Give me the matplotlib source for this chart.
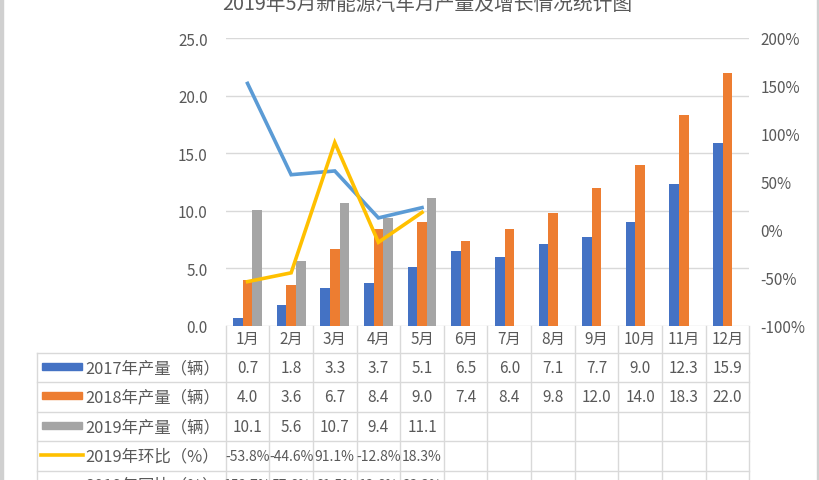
import numpy as np
import matplotlib
matplotlib.use("Agg")
import matplotlib.pyplot as plt
from matplotlib.patches import Rectangle
from matplotlib.lines import Line2D

plt.rcParams['font.family'] = ['Noto Sans CJK SC', 'DejaVu Sans']

months = ['1月', '2月', '3月', '4月', '5月', '6月', '7月', '8月', '9月', '10月', '11月', '12月']
p2017 = [0.7, 1.8, 3.3, 3.7, 5.1, 6.5, 6.0, 7.1, 7.7, 9.0, 12.3, 15.9]
p2018 = [4.0, 3.6, 6.7, 8.4, 9.0, 7.4, 8.4, 9.8, 12.0, 14.0, 18.3, 22.0]
p2019 = [10.1, 5.6, 10.7, 9.4, 11.1]
mom2019 = [-53.8, -44.6, 91.1, -12.8, 18.3]
yoy2019 = [152.7, 57.6, 61.5, 12.6, 23.3]

names = ['2017年产量（辆）', '2018年产量（辆）', '2019年产量（辆）', '2019年环比（%）', '2019年同比（%）']
colors = ['#4472C4', '#ED7D31', '#A5A5A5', '#FFC000', '#5B9BD5']
txt = '#595959'
grid = '#D9D9D9'

W, H = 820, 481
fig = plt.figure(figsize=(W / 100, H / 100), dpi=100)


def fx(x):
    return x / W


def fy(y):
    return 1 - y / H


x0, x1, ytop, ybot = 225.7, 749.3, 39, 327
ax = fig.add_axes([fx(x0), fy(ybot), fx(x1) - fx(x0), fy(ytop) - fy(ybot)])
ax2 = ax.twinx()

x = np.arange(len(months))
w = 0.22
ax.bar(x - w, p2017, w, color=colors[0], zorder=2)
ax.bar(x, p2018, w, color=colors[1], zorder=2)
ax.bar(np.arange(len(p2019)) + w, p2019, w, color=colors[2], zorder=2)

ax.set_xlim(-0.5, len(months) - 0.5)
ax.set_ylim(0, 25)
ax.set_yticks(np.arange(0, 25.1, 5))
ax.set_yticklabels(['%.1f' % v for v in np.arange(0, 25.1, 5)])
ax.yaxis.grid(True, color=grid, lw=1)
ax.set_axisbelow(True)
ax.set_xticks([])

ax2.plot(np.arange(len(yoy2019)), yoy2019, color=colors[4], lw=2.6, solid_joinstyle='miter')
ax2.plot(np.arange(len(mom2019)), mom2019, color=colors[3], lw=2.6, solid_joinstyle='miter')
ax2.set_ylim(-100, 200)
ax2.set_yticks(np.arange(-100, 201, 50))
ax2.set_yticklabels(['%d%%' % v for v in np.arange(-100, 201, 50)])

for a in (ax, ax2):
    for s in a.spines.values():
        s.set_visible(False)
    a.tick_params(length=0, labelsize=11, labelcolor=txt)
ax.tick_params(axis='y', pad=13)
ax2.tick_params(axis='y', pad=8)

# data table under the chart
cw = (x1 - x0) / len(months)
row_tops = [353.5, 383, 412.5, 442, 471.5, 501]
tleft = 37
tr = fig.transFigure

for i in range(len(months) + 1):
    xx = x0 + i * cw
    fig.add_artist(Line2D([fx(xx), fx(xx)], [fy(ybot), fy(row_tops[-1])], color=grid, lw=1, transform=tr))
fig.add_artist(Line2D([fx(tleft), fx(tleft)], [fy(row_tops[0]), fy(row_tops[-1])], color=grid, lw=1, transform=tr))
for yy in row_tops:
    fig.add_artist(Line2D([fx(tleft), fx(x1)], [fy(yy), fy(yy)], color=grid, lw=1, transform=tr))

for i, m in enumerate(months):
    fig.text(fx(x0 + (i + 0.5) * cw), fy(339), m, ha='center', va='center', fontsize=11, color=txt)

rows = [['%.1f' % v for v in p2017],
        ['%.1f' % v for v in p2018],
        ['%.1f' % v for v in p2019],
        ['%.1f%%' % v for v in mom2019],
        ['%.1f%%' % v for v in yoy2019]]

for r, (name, vals) in enumerate(zip(names, rows)):
    yc = (row_tops[r] + row_tops[r + 1]) / 2
    if r < 3:
        fig.add_artist(Rectangle((fx(42), fy(yc + 2.5)), fx(82) - fx(42), fy(yc - 4.5) - fy(yc + 2.5),
                                 color=colors[r], transform=tr))
    else:
        fig.add_artist(Line2D([fx(41), fx(83)], [fy(yc - 1), fy(yc - 1)], color=colors[r], lw=2.6, transform=tr))
    fig.text(fx(85), fy(yc), name, ha='left', va='center', fontsize=11.8, color=txt)
    fs = 11 if r < 3 else 10
    for i, v in enumerate(vals):
        fig.text(fx(x0 + (i + 0.5) * cw), fy(yc), v, ha='center', va='center', fontsize=fs, color=txt)

fig.text(fx(427), fy(4), '2019年5月新能源汽车月产量及增长情况统计图', ha='center', va='center',
         fontsize=14.2, color=txt)

# grey frame edges
fig.add_artist(Rectangle((0, 0), fx(3), 1, color='#D0D0D0', transform=tr))
fig.add_artist(Rectangle((fx(817), 0), fx(3), 1, color='#D0D0D0', transform=tr))

fig.savefig('out.png', dpi=100)
